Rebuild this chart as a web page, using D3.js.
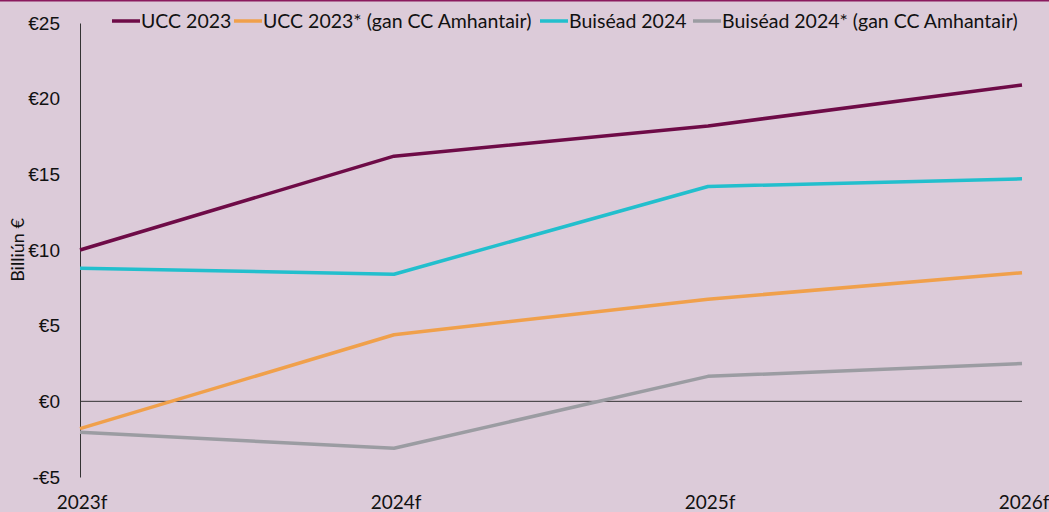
<!DOCTYPE html>
<html>
<head>
<meta charset="utf-8">
<script src="https://cdn.jsdelivr.net/npm/d3@7"></script>
<style>
  html, body { margin: 0; padding: 0; background: #dccbd9; }
  svg { display: block; font-family: Lato, "Open Sans", sans-serif; }
</style>
</head>
<body>
<div id="chart"></div>
<script>
const width = 1049;
const height = 512;
const padding = {left: 80, right: 27, top: 23, bottom: 35};

const categories = ['2023f', '2024f', '2025f', '2026f'];
const yTicks = [-5, 0, 5, 10, 15, 20, 25];

const ucc2023 = [10.0, 16.2, 18.2, 20.9];
const ucc2023Star = [-1.8, 4.4, 6.75, 8.5];
const budget2024 = [8.8, 8.4, 14.2, 14.7];
const budget2024Star = [-2.05, -3.1, 1.65, 2.5];

const seriesNames = ['UCC 2023', 'UCC 2023* (gan CC Amhantair)', 'Buiséad 2024', 'Buiséad 2024* (gan CC Amhantair)'];
const seriesColors = ['#6e0b47', '#f0a04b', '#22bfcd', '#9b9ca2'];
const seriesValues = [ucc2023, ucc2023Star, budget2024, budget2024Star];

const svg = d3.select('#chart')
              .append('svg')
              .attr('width', width)
              .attr('height', height);

svg.append('rect')
   .attr('width', width).attr('height', height)
   .attr('fill', '#dccbd9');

// thin border on top
svg.append('line')
   .attr('x1', 0).attr('x2', width)
   .attr('y1', 0.75).attr('y2', 0.75)
   .attr('stroke', '#8a1a5e').attr('stroke-width', 1.5);

const xScale = d3.scalePoint()
                 .domain(categories)
                 .range([padding.left, width - padding.right]);

const yScale = d3.scaleLinear()
                 .domain([-5, 25])
                 .range([height - padding.bottom, padding.top]);

//y-axis
const yAxis = d3.axisLeft(yScale)
                .tickValues(yTicks)
                .tickFormat(d => (d < 0 ? '-€' + Math.abs(d) : '€' + d))
                .tickSize(0)
                .tickPadding(20);

const gy = svg.append('g')
   .attr('transform', 'translate(' + padding.left + ',0)')
   .call(yAxis);
gy.select('.domain').attr('stroke', '#333').attr('stroke-width', 1);
gy.selectAll('text').style('font-size', '19px').attr('fill', '#111');

//zero line
svg.append('line')
   .attr('x1', xScale(categories[0])).attr('x2', xScale(categories[categories.length - 1]))
   .attr('y1', yScale(0)).attr('y2', yScale(0))
   .attr('stroke', '#333').attr('stroke-width', 1);

//x labels
svg.selectAll('.xlabel')
   .data(categories)
   .enter()
   .append('text')
   .attr('class', 'xlabel')
   .attr('x', d => xScale(d) + 2)
   .attr('y', height - 3)
   .attr('text-anchor', 'middle')
   .style('font-size', '19px')
   .attr('fill', '#111')
   .text(d => d);

//y label
svg.append('text')
   .attr('transform', 'translate(24,' + 250 + ') rotate(-90)')
   .attr('text-anchor', 'middle')
   .style('font-size', '18px')
   .attr('fill', '#111')
   .text('Billiún €');

//lines
const line = d3.line()
               .x((d, i) => xScale(categories[i]))
               .y(d => yScale(d));

svg.selectAll('.series')
   .data(seriesValues)
   .enter()
   .append('path')
   .attr('class', 'series')
   .attr('d', line)
   .attr('fill', 'none')
   .attr('stroke', (d, i) => seriesColors[i])
   .attr('stroke-width', 3.5)
   .attr('stroke-linejoin', 'round');

//legend
const legendX = [112, 234, 540, 693];
const legend = svg.selectAll('.legend-item')
   .data(seriesNames)
   .enter()
   .append('g')
   .attr('class', 'legend-item')
   .attr('transform', (d, i) => 'translate(' + legendX[i] + ',21)');

legend.append('line')
   .attr('x1', 0).attr('x2', 28)
   .attr('y1', 0).attr('y2', 0)
   .attr('stroke', (d, i) => seriesColors[i])
   .attr('stroke-width', 3.5);

legend.append('text')
   .attr('x', 29)
   .attr('y', 7)
   .style('font-size', '19.5px')
   .attr('fill', '#111')
   .text(d => d);
</script>
</body>
</html>
